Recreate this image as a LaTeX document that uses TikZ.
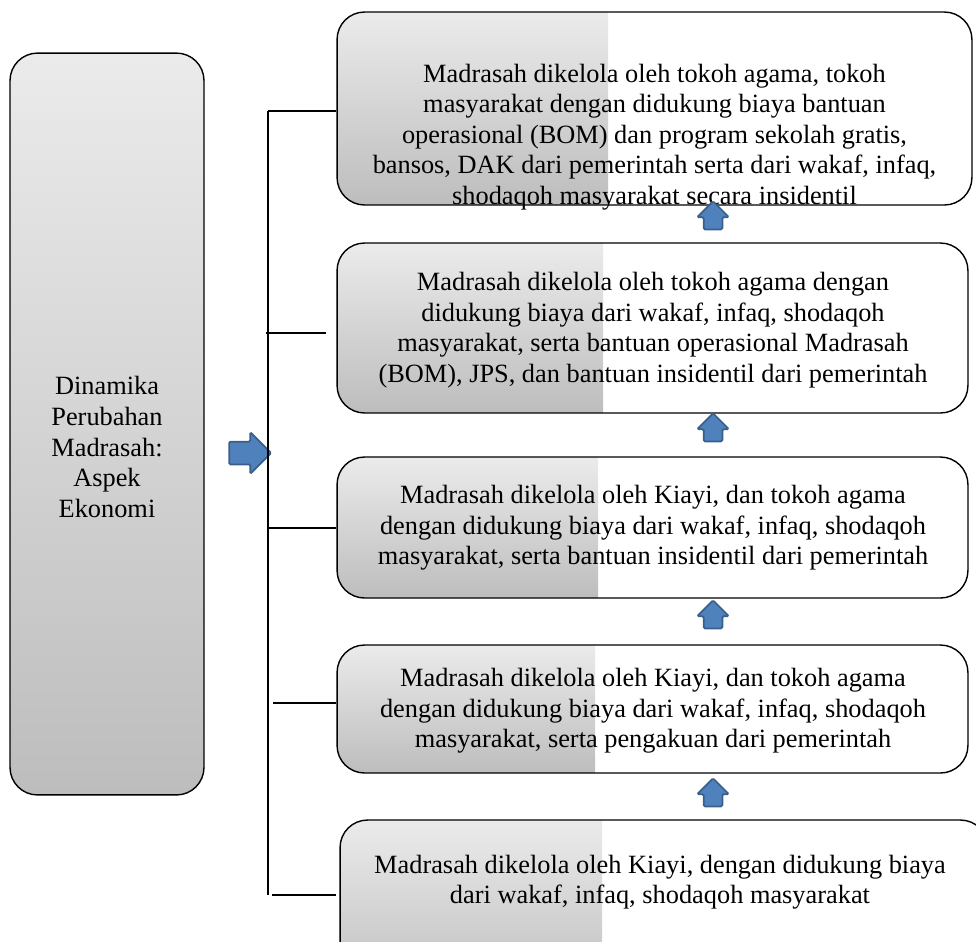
\documentclass[tikz,border=0pt]{standalone}
\usepackage{fontspec}
\setmainfont{Liberation Serif}
\usetikzlibrary{calc}
\usetikzlibrary{shapes.arrows}

\definecolor{shadetop}{HTML}{EBEBEB}
\definecolor{shadebot}{HTML}{BDBDBD}
\definecolor{arrowfill}{HTML}{4F81BD}
\definecolor{arrowline}{HTML}{3A5F8B}

\tikzset{
 stagebox/.style={draw=black, line width=0.8pt, rounded corners=0.55cm, inner sep=0pt},
 halfshade/.style={path picture={\shade[sharp corners, top color=shadetop, bottom color=shadebot]
   (path picture bounding box.north west) rectangle ([xshift=#1]path picture bounding box.south west);}},
 stagetext/.style={align=center, font=\fontsize{15}{17.4}\selectfont, inner sep=0pt},
 blockarrow/.style={single arrow, draw=arrowline, fill=arrowfill, line width=1pt, rounded corners=0.8pt},
 uparrow/.style={blockarrow, shape border rotate=90, inner sep=0.17cm, minimum height=0.54cm, single arrow head extend=0.13cm},
}

\begin{document}
\begin{tikzpicture}[x=0.02cm, y=-0.02cm]
\clip (0,0) rectangle (976,941);
% kotak kiri
\node[stagebox, halfshade=3.88cm, minimum width=3.88cm, minimum height=14.84cm] (aspek) at (107,424) {};
\node[stagetext] (aspektxt) at (107,447) {Dinamika\\ Perubahan\\ Madrasah:\\ Aspek\\ Ekonomi};
\node[blockarrow, inner sep=0.21cm, minimum height=0.84cm, single arrow head extend=0.19cm] (panah) at (244.5,453) {};

% kotak tahap
\foreach \n/\cx/\cy/\bw/\bh/\sw in {1/654.5/108.5/12.70/3.86/5.42, 2/652.5/328/12.62/3.40/5.32,
  3/652.5/527.5/12.62/2.82/5.22, 4/652.5/709/12.62/2.56/5.16, 5/664/910/12.96/3.60/5.24} {
 \node[stagebox, halfshade=\sw cm, minimum width=\bw cm, minimum height=\bh cm] (box\n) at (\cx,\cy) {};
}
\node[stagetext] (txt1) at (654.5,137) {Madrasah dikelola oleh tokoh agama, tokoh\\ masyarakat dengan didukung biaya bantuan\\ operasional (BOM) dan program sekolah gratis,\\ bansos, DAK dari pemerintah serta dari wakaf, infaq,\\ shodaqoh masyarakat secara insidentil};
\node[stagetext] (txt2) at (653,330) {Madrasah dikelola oleh tokoh agama dengan\\ didukung biaya dari wakaf, infaq, shodaqoh\\ masyarakat, serta bantuan operasional Madrasah\\ (BOM), JPS, dan bantuan insidentil dari pemerintah};
\node[stagetext] (txt3) at (653,528) {Madrasah dikelola oleh Kiayi, dan tokoh agama\\ dengan didukung biaya dari wakaf, infaq, shodaqoh\\ masyarakat, serta bantuan insidentil dari pemerintah};
\node[stagetext] (txt4) at (653,711) {Madrasah dikelola oleh Kiayi, dan tokoh agama\\ dengan didukung biaya dari wakaf, infaq, shodaqoh\\ masyarakat, serta pengakuan dari pemerintah};
\node[stagetext] (txt5) at (660,882) {Madrasah dikelola oleh Kiayi, dengan didukung biaya\\ dari wakaf, infaq, shodaqoh masyarakat};

% panah naik
\foreach \n/\cy in {1/220, 2/432, 3/619, 4/797} {
 \node[uparrow] (naik\n) at (713,\cy) {};
}

% kurung
\coordinate (k1) at (268,111);
\coordinate (k2) at (266,333);
\coordinate (k3) at (268,528);
\coordinate (k4) at (273,703);
\coordinate (k5) at (272,895);
\coordinate (k2e) at (326,333);
\coordinate (k5e) at (336,895);
\draw[black, line width=0.8pt] (k1) -- (268,895);
\draw[black, line width=0.8pt] (k1) -- (k1 -| box1.west);
\draw[black, line width=0.8pt] (k2) -- (k2e);
\draw[black, line width=0.8pt] (k3) -- (k3 -| box3.west);
\draw[black, line width=0.8pt] (k4) -- (k4 -| box4.west);
\draw[black, line width=0.8pt] (k5) -- (k5e);
\end{tikzpicture}
\end{document}
